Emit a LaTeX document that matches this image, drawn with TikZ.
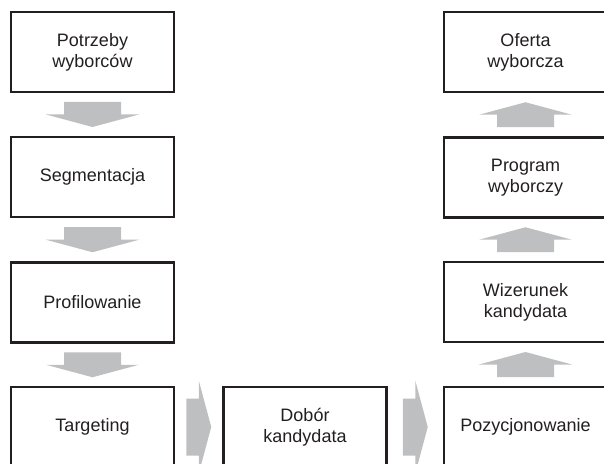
\documentclass[tikz,border=0pt]{standalone}
\usepackage{fontspec}
\setmainfont{Liberation Sans}
\usetikzlibrary{calc}
\definecolor{framegray}{RGB}{35,31,32}
\definecolor{arrowgray}{RGB}{190,191,193}
\tikzset{
	stage/.style={draw=framegray, line width=2.5pt, fill=white, minimum width=163pt, minimum height=80pt,
		inner sep=0pt, align=center, text=framegray, font=\fontsize{18}{21}\selectfont},
	fatarrow/.pic={
		\fill[arrowgray] (-12.5,-28.5) -- (0,-28.5) -- (0,-46.5) -- (12.5,0) -- (0,46.5) -- (0,28.5) -- (-12.5,28.5) -- cycle;
	}
}
\begin{document}
\begin{tikzpicture}[x=1pt, y=1pt]
			\clip (0,0) rectangle (604,463);
			\useasboundingbox (0,0) rectangle (604,463);
			% left column
			\node[stage] (potrzeby) at (92.5,411) {Potrzeby\\wyborców};
			\node[stage] (segm) at (92.5,286) {Segmentacja};
			\node[stage] (profil) at (92.5,160.5) {Profilowanie};
			\node[stage] (target) at (92.5,36) {Targeting};
			% bottom row
			\node[stage] (dobor) at (305,36) {Dobór\\kandydata};
			\node[stage] (pozycja) at (525.5,36) {Pozycjonowanie};
			% right column
			\node[stage] (wizerunek) at (525.5,161) {Wizerunek\\kandydata};
			\node[stage] (program) at (525.5,285.5) {Program\\wyborczy};
			\node[stage] (oferta) at (525.5,411) {Oferta\\wyborcza};
			\foreach \a/\b/\r in {potrzeby/segm/-90, segm/profil/-90, profil/target/-90, target/dobor/0,
				dobor/pozycja/0, pozycja/wizerunek/90, wizerunek/program/90, program/oferta/90} {
				\pic[rotate=\r] at ($(\a)!0.5!(\b)$) {fatarrow};
			}
	\end{tikzpicture}
\end{document}
